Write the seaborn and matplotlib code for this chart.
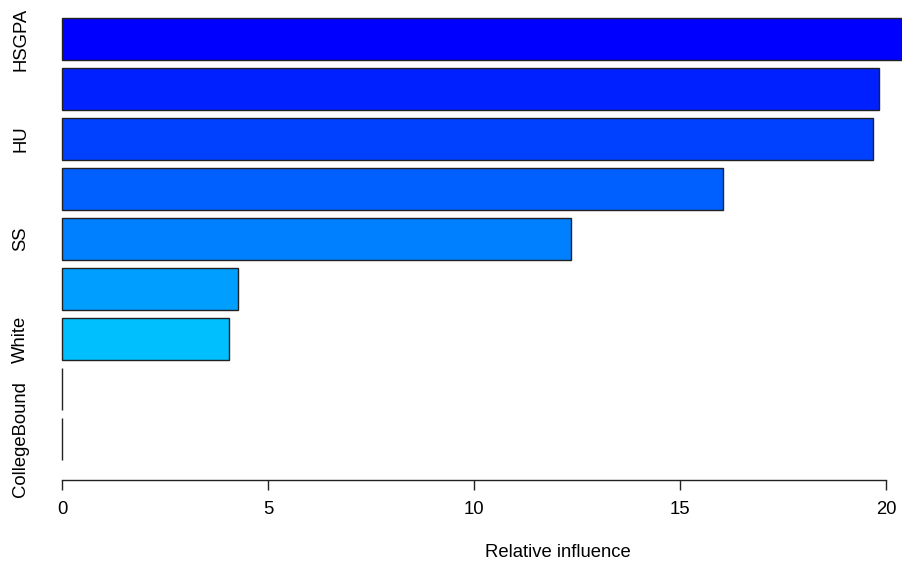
import matplotlib
matplotlib.use("Agg")
import matplotlib.pyplot as plt
import seaborn as sns
import pandas as pd
import colorsys

variables = ["HSGPA", "SATV", "HU", "SATM", "SS", "FirstGen", "White", "Male", "CollegeBound"]
rel_inf = [20.55, 19.83, 19.68, 16.05, 12.35, 4.27, 4.05, 0.0, 0.0]
shown_labels = ["HSGPA", "", "HU", "", "SS", "", "White", "", "CollegeBound"]

# R rainbow(n, start=3/6, end=4/6); smallest bar gets the first colour
n = len(variables)
hues = [0.5 + i * (4/6 - 3/6) / (n - 1) for i in range(n)]
cols = [colorsys.hsv_to_rgb(h, 1, 1) for h in hues][::-1]

df = pd.DataFrame({"var": variables, "inf": rel_inf})

sns.set_theme(style="white")
plt.rcParams["font.family"] = ["Liberation Sans", "DejaVu Sans"]

W, H = 903, 567
fig = plt.figure(figsize=(W / 100, H / 100), dpi=100)

x0_px, ppu = 62, 41.2
xlo, xhi = -0.8, 21.4
left_px = x0_px + xlo * ppu
right_px = x0_px + xhi * ppu
top_px, bot_px = 5, 480
ylo, yhi = 8.82, -0.68
ax = fig.add_axes([left_px / W, 1 - bot_px / H, (right_px - left_px) / W, (bot_px - top_px) / H])

sns.barplot(data=df, y="var", x="inf", hue="var", palette=cols, orient="h",
            width=0.84, edgecolor="#222222", linewidth=1.0, legend=False, ax=ax,
            order=variables, saturation=1)

ax.set_xlim(xlo, xhi)
ax.set_ylim(ylo, yhi)
for s in ["top", "right", "left"]:
    ax.spines[s].set_visible(False)
ax.spines["bottom"].set_bounds(0, 20)
ax.spines["bottom"].set_color("#222222")
ax.spines["bottom"].set_linewidth(1.0)
ax.set_xticks([0, 5, 10, 15, 20])
ax.set_xticklabels(["0", "5", "10", "15", "20"], fontsize=13.3)
ax.tick_params(axis="x", bottom=True, direction="out", length=7, width=1.0, color="#222222", pad=8, labelcolor="black")
ax.set_yticks(range(n))
ax.set_yticklabels(shown_labels, rotation=90, va="center", fontsize=13.3)
ax.tick_params(axis="y", left=False, length=0, pad=0, labelcolor="black")
ax.set_ylabel("")
ax.set_xlabel("Relative influence", fontsize=13.3, color="black")
ax.xaxis.set_label_coords((558 - left_px) / (right_px - left_px), -(544 - bot_px) / (bot_px - top_px))
ax.grid(False)

fig.savefig("out.png", dpi=100)
